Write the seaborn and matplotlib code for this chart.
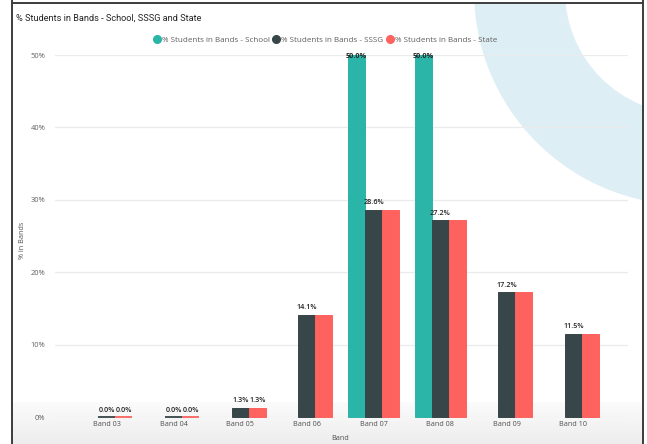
import numpy as np
import pandas as pd
import matplotlib
matplotlib.use("Agg")
import matplotlib.pyplot as plt
import seaborn as sns
from matplotlib.patches import Wedge, Rectangle
from matplotlib.lines import Line2D

# ---------------- data ----------------
bands = ["Band 03", "Band 04", "Band 05", "Band 06", "Band 07", "Band 08", "Band 09", "Band 10"]
school = [np.nan, np.nan, np.nan, np.nan, 50.0, 50.0, np.nan, np.nan]
sssg = [0.0, 0.0, 1.3, 14.1, 28.6, 27.2, 17.2, 11.5]
state = [0.0, 0.0, 1.3, 14.1, 28.6, 27.2, 17.2, 11.5]
series_names = ["% Students in Bands - School",
                "% Students in Bands - SSSG",
                "% Students in Bands - State"]
colors = ["#2BB4A8", "#374649", "#FD625E"]
yticks = [0, 10, 20, 30, 40, 50]
ytick_labels = ["0%", "10%", "20%", "30%", "40%", "50%"]
# which data labels are displayed (Power BI hides overlapping ones)
show_school = [False, False, False, False, True, True, False, False]
show_sssg = [True, True, True, True, True, True, True, True]
show_state = [True, True, True, False, False, False, False, False]

title = "% Students in Bands - School, SSSG and State"
ylabel = "% in Bands"
xlabel = "Band"

df = pd.DataFrame({
    "Band": bands * 3,
    "Series": [series_names[0]] * len(bands) + [series_names[1]] * len(bands) + [series_names[2]] * len(bands),
    "Value": school + sssg + state,
})
shows = {series_names[0]: show_school, series_names[1]: show_sssg, series_names[2]: show_state}

# ---------------- figure ----------------
sns.set_theme(style="white")
plt.rcParams["font.family"] = ["Open Sans", "DejaVu Sans"]

W, H = 647, 444
fig = plt.figure(figsize=(W / 100, H / 100), dpi=100)
fig.patch.set_facecolor("white")

# background decoration layer in pixel coordinates
bg = fig.add_axes([0, 0, 1, 1], zorder=0)
bg.set_xlim(0, W)
bg.set_ylim(H, 0)
bg.axis("off")
clip = Rectangle((12, 3), 631, 441, transform=bg.transData)
grad = np.linspace(0, 1, 100)[:, None]
c0 = np.array([0.985, 0.985, 0.985])
c1 = np.array([0.93, 0.93, 0.93])
img = (c0[None, None, :] * (1 - grad[..., None]) + c1[None, None, :] * grad[..., None])
img = np.repeat(img, 2, axis=1)
bg.imshow(img, extent=[12, 643, H, 402], aspect="auto", interpolation="bilinear", zorder=0)
ring = Wedge((688, -9), 214, 0, 360, width=91, facecolor="#deeef5", edgecolor="none", zorder=1)
bg.add_patch(ring)
ring.set_clip_path(clip)
bg.set_xlim(0, W)
bg.set_ylim(H, 0)
frame_c = "#3c3c3c"
bg.add_line(Line2D([12, 12], [0, H], color=frame_c, lw=1.4, zorder=3))
bg.add_line(Line2D([12, 643], [3, 3], color=frame_c, lw=1.4, zorder=3))
bg.add_line(Line2D([643, 643], [0, H], color=frame_c, lw=1.4, zorder=3))

# main axes
x0, x1 = 55, 628
y0, y1 = 417, 55
ax = fig.add_axes([x0 / W, 1 - y0 / H, (x1 - x0) / W, (y0 - y1) / H], zorder=2)
ax.set_facecolor("none")

sns.barplot(data=df, x="Band", y="Value", hue="Series", hue_order=series_names,
            order=bands, palette=colors, width=0.765, saturation=1, errorbar=None,
            legend=False, ax=ax, zorder=3)

for cont, name, col in zip(ax.containers, series_names, colors):
    for bar in cont:
        bar.set_edgecolor(col)
        h = bar.get_height()
        bar.set_linewidth(1.3 if (h is not None and h == 0) else 0.7)
        bar.set_clip_on(False)

ax.set_ylim(0, 50)
ax.set_xlim(-0.78, 7.82)
ax.set_yticks(yticks)
ax.set_yticklabels(ytick_labels)
ax.yaxis.grid(True, color="#ebebeb", lw=0.9)
ax.set_axisbelow(True)
for s in ax.spines.values():
    s.set_visible(False)
ax.tick_params(axis="y", length=0, pad=7, labelsize=5.4, labelcolor="#606060")
ax.tick_params(axis="x", length=0, pad=3, labelsize=5.2, labelcolor="#505050")
ax.set_xlabel("")
ax.set_ylabel("")

# data labels
for cont, name in zip(ax.containers, series_names):
    flags = shows[name]
    for bar in cont:
        h = bar.get_height()
        if h is None or np.isnan(h):
            continue
        xc = bar.get_x() + bar.get_width() / 2
        idx = int(round(xc))
        if not flags[idx]:
            continue
        txt = f"{h:.1f}%"
        if h >= 49.9:
            ax.text(xc, h - 0.15, txt, ha="center", va="center", fontsize=5.2,
                    color="#252423", fontweight="bold", clip_on=False, zorder=5)
        else:
            ax.annotate(txt, (xc, h), xytext=(0, 2.5), textcoords="offset points",
                        ha="center", va="bottom", fontsize=5.2, color="#252423",
                        fontweight="semibold", zorder=5)

# titles and legend
fig.text(16 / W, 1 - 18 / H, title, ha="left", va="center", fontsize=6.6,
         color="#252423", family=["Roboto", "Open Sans", "DejaVu Sans"])
fig.text(22 / W, 1 - 240 / H, ylabel, ha="center", va="center", rotation=90, fontsize=5.2, color="#505050")
fig.text(340 / W, 1 - 438 / H, xlabel, ha="center", va="center", fontsize=5.2, color="#505050")

handles = [Line2D([], [], marker="o", linestyle="none", markersize=5.5, markerfacecolor=c,
                  markeredgecolor=c) for c in colors]
fig.legend(handles, series_names, loc="center", bbox_to_anchor=(325 / W, 1 - 40 / H),
           ncol=3, frameon=False, fontsize=5.8, handletextpad=0.1, columnspacing=0.3,
           labelcolor="#605e5c", borderaxespad=0, handlelength=1.0)

fig.savefig("out.png", dpi=100)
